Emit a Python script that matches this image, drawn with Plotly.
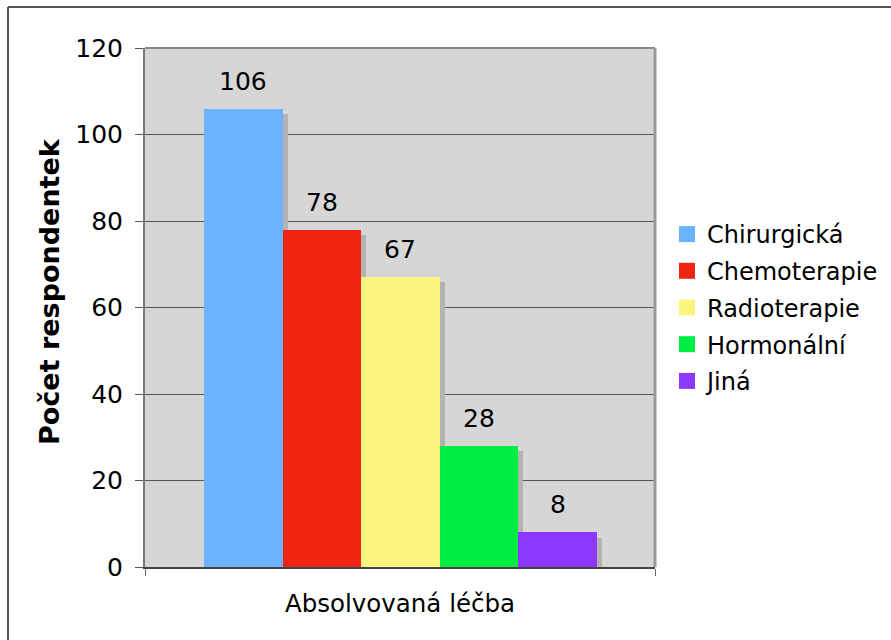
import plotly.graph_objects as go

# Treatment categories and respondent counts
categories = ["Chirurgická", "Chemoterapie", "Radioterapie", "Hormonální", "Jiná"]
counts = [106, 78, 67, 28, 8]
colors = ["#6AB4FF", "#EE2511", "#FBF57F", "#00EE44", "#8C38FF"]
y_ticks = [0, 20, 40, 60, 80, 100, 120]

FONT = "DejaVu Sans"
W, H = 891, 640
ML, MR, MT, MB = 145, 236, 48, 73
PW, PH = W - ML - MR, H - MT - MB

SHADOW_DX = 0.065
SHADOW_DY = 1.2

fig = go.Figure()

# drop shadows, drawn first so the bars sit on top
for i, v in enumerate(counts):
    fig.add_trace(go.Bar(
        x=[i + SHADOW_DX], y=[v - SHADOW_DY], width=1,
        marker=dict(color="#b3b3b3", line=dict(width=0)),
        showlegend=False, hoverinfo="skip",
    ))

for i, (name, v, c) in enumerate(zip(categories, counts, colors)):
    fig.add_trace(go.Bar(
        x=[i], y=[v], width=1, name=name, legendgroup=name, showlegend=False,
        marker=dict(color=c, line=dict(width=0)),
    ))
    # legend entry with a larger square swatch
    fig.add_trace(go.Scatter(
        x=[None], y=[None], mode="markers", name=name, legendgroup=name,
        marker=dict(symbol="square", size=18, color=c, line=dict(width=0)),
    ))
    fig.add_annotation(
        x=i, y=v, text=str(v), showarrow=False, yanchor="bottom",
        yshift=11, font=dict(family=FONT, size=25, color="#000"),
    )

def px_x(p):
    return (p - ML) / PW

def px_y(p):
    return (H - MB - p) / PH

# y-axis title, placed as a rotated annotation
fig.add_annotation(
    xref="paper", yref="paper", x=px_x(49), y=px_y(292),
    text="<b>Počet respondentek</b>", textangle=-90, showarrow=False,
    xanchor="center", yanchor="middle",
    font=dict(family=FONT, size=27, color="#000"),
)

shapes = [
    # outer frame (top and left edges)
    dict(type="line", xref="paper", yref="paper", x0=px_x(8), x1=px_x(W + 5),
         y0=px_y(7), y1=px_y(7), line=dict(color="#555", width=2)),
    dict(type="line", xref="paper", yref="paper", x0=px_x(8), x1=px_x(8),
         y0=px_y(7), y1=px_y(H + 5), line=dict(color="#555", width=2)),
    # plot area border: top and right
    dict(type="line", xref="paper", yref="paper", x0=0, x1=1, y0=1, y1=1,
         line=dict(color="#8a8a8a", width=2)),
    dict(type="line", xref="paper", yref="paper", x0=1, x1=1, y0=0, y1=1,
         line=dict(color="#999", width=3)),
]

fig.update_layout(
    width=W, height=H,
    margin=dict(l=ML, r=MR, t=MT, b=MB, autoexpand=False),
    paper_bgcolor="white", plot_bgcolor="#D6D6D6",
    barmode="overlay", bargap=0,
    font=dict(family=FONT, size=25, color="#000"),
    shapes=shapes,
    showlegend=True,
    legend=dict(
        x=px_x(667), y=px_y(212), xanchor="left", yanchor="top",
        font=dict(family=FONT, size=24), itemwidth=30,
        tracegroupgap=2.5, bgcolor="rgba(0,0,0,0)",
    ),
    xaxis=dict(
        range=[-1.25, 5.24], tickvals=[-1.25, 5.24], showticklabels=False,
        ticks="outside", ticklen=7, tickcolor="#666", showgrid=False,
        zeroline=False, showline=True, linecolor="#444", linewidth=2,
        title=dict(text="Absolvovaná léčba", font=dict(family=FONT, size=24.5), standoff=20),
    ),
    yaxis=dict(
        range=[0, 120], tickvals=y_ticks, ticks="outside", ticklen=8,
        tickcolor="#555", tickfont=dict(family=FONT, size=25),
        ticklabelstandoff=7,
        showgrid=True, gridcolor="#555", gridwidth=1, zeroline=False,
        showline=True, linecolor="#777", linewidth=2,
    ),
)

fig.write_html("out.html")
